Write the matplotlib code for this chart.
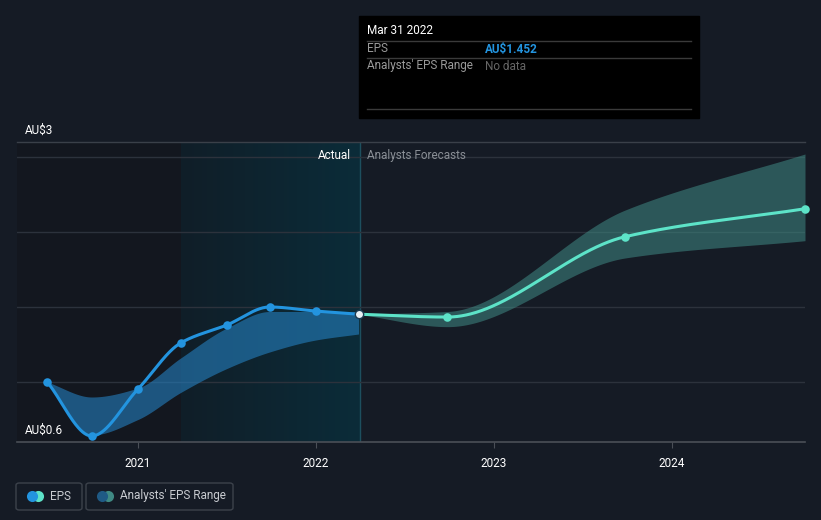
import numpy as np
import matplotlib.pyplot as plt
from matplotlib.patches import Rectangle, FancyBboxPatch
from matplotlib.colors import LinearSegmentedColormap

plt.rcParams['font.family'] = ['Roboto', 'DejaVu Sans']

# actual EPS (fractional year, AU$)
act_x = [2020.49, 2020.74, 2021.0, 2021.24, 2021.5, 2021.74, 2022.0, 2022.24]
act_y = [1.0, 0.64, 0.953, 1.26, 1.38, 1.50, 1.473, 1.452]
# past analysts' range
past_lo = [1.0, 0.647, 0.75, 0.93, 1.09, 1.20, 1.28, 1.32]
past_hi = [1.0, 0.90, 0.96, 1.16, 1.36, 1.47, 1.47, 1.467]
# forecast EPS
fc_x = [2022.24, 2022.74, 2023.74, 2024.75]
fc_y = [1.452, 1.433, 1.969, 2.155]
fc_lo = [1.452, 1.369, 1.827, 1.942]
fc_hi = [1.452, 1.47, 2.147, 2.52]

years = [2021, 2022, 2023, 2024]
now_x = 2022.25
shade_x = 2021.24

BG = '#151b25'
BLUE = '#2394df'
TEAL = '#5de3c8'


def smooth(x, y, n=200):
    # monotone cubic (Fritsch-Carlson), only for drawing the curve
    x = np.asarray(x, float)
    y = np.asarray(y, float)
    h = np.diff(x)
    d = np.diff(y) / h
    m = np.zeros_like(y)
    m[0], m[-1] = d[0], d[-1]
    for i in range(1, len(y) - 1):
        if d[i - 1] * d[i] <= 0:
            m[i] = 0
        else:
            w1 = 2 * h[i] + h[i - 1]
            w2 = h[i] + 2 * h[i - 1]
            m[i] = (w1 + w2) / (w1 / d[i - 1] + w2 / d[i])
    xs, ys = [], []
    for i in range(len(h)):
        t = np.linspace(0, 1, n)
        h00 = 2 * t**3 - 3 * t**2 + 1
        h10 = t**3 - 2 * t**2 + t
        h01 = -2 * t**3 + 3 * t**2
        h11 = t**3 - t**2
        xs.append(x[i] + t * h[i])
        ys.append(h00 * y[i] + h10 * h[i] * m[i] + h01 * y[i + 1] + h11 * h[i] * m[i + 1])
    return np.concatenate(xs), np.concatenate(ys)


fig = plt.figure(figsize=(8.21, 5.2), dpi=100, facecolor=BG)
ax = fig.add_axes([17 / 821, 78 / 520, 788 / 821, 300 / 520])
ax.set_facecolor(BG)
ax.set_xlim(2020.32, 2024.75)
ax.set_ylim(0.6, 2.6)

# background regions
ax.axvspan(2020.32, shade_x, color='#13171f', zorder=0, lw=0)
grad = np.linspace(0, 1, 256).reshape(1, -1)
cm = LinearSegmentedColormap.from_list('g', ['#101e28', '#0b2c39'])
ax.imshow(grad, cmap=cm, extent=[shade_x, now_x, 0.6, 2.6], aspect='auto', zorder=0)
ax.axvline(now_x, color='#1d4f5e', lw=1, zorder=1)

for g in [1.0, 1.5, 2.0, 2.5]:
    ax.axhline(g, color='#2c323c', lw=1, zorder=1)
ax.axhline(2.6, color='#3a4049', lw=1, zorder=1, clip_on=False)

# bands
bx, blo = smooth(act_x, past_lo)
_, bhi = smooth(act_x, past_hi)
ax.fill_between(bx, blo, bhi, color='#2580c0', alpha=0.6, lw=0, zorder=2)
fx, flo = smooth(fc_x, fc_lo)
_, fhi = smooth(fc_x, fc_hi)
ax.fill_between(fx, flo, fhi, color='#3f8a84', alpha=0.55, lw=0, zorder=2)

# lines
sx, sy = smooth(act_x, act_y)
ax.plot(sx, sy, color=BLUE, lw=2.2, zorder=3)
ax.scatter(act_x[:-1], act_y[:-1], s=38, color=BLUE, zorder=4, lw=0)
tx, ty = smooth(fc_x, fc_y)
ax.plot(tx, ty, color=TEAL, lw=2.2, zorder=3)
ax.scatter(fc_x[1:], fc_y[1:], s=38, color=TEAL, zorder=4, lw=0, clip_on=False)
ax.scatter([act_x[-1]], [act_y[-1]], s=36, color='#e8f0f5', edgecolor='#1a3a52', lw=1, zorder=5)

# axes styling
for s in ax.spines.values():
    s.set_visible(False)
ax.axhline(0.6, color='#4a4f57', lw=1.2, zorder=3, clip_on=False)
ax.set_yticks([])
ax.set_xticks(years)
ax.set_xticklabels([str(y) for y in years], color='white', fontsize=8.5)
ax.tick_params(axis='x', length=4, color='#4a4f57', pad=7)

ax.text(2022.2, 2.51, 'Actual', color='white', fontsize=8.5, ha='right', va='center', zorder=6)
ax.text(2022.29, 2.51, 'Analysts Forecasts', color='#8a8f96', fontsize=8.5, ha='left', va='center', zorder=6)

fig.text(25 / 821, 1 - 130 / 520, 'AU$3', color='white', fontsize=8.5, va='center')
fig.text(25 / 821, 1 - 430 / 520, 'AU$0.6', color='white', fontsize=8.5, va='center')

# tooltip
fig.patches.append(Rectangle((359 / 821, 1 - 118 / 520), 340 / 821, 102 / 520,
                             transform=fig.transFigure, color='black', zorder=10))
for yy in [41, 58, 109]:
    fig.add_artist(plt.Line2D([367 / 821, 691 / 821], [1 - yy / 520] * 2, color='#3a3a3a', lw=1, zorder=11))
fig.text(367 / 821, 1 - 31 / 520, 'Mar 31 2022', color='white', fontsize=8.5, va='center', zorder=12)
fig.text(367 / 821, 1 - 49 / 520, 'EPS', color='#9a9a9a', fontsize=8.5, va='center', zorder=12)
fig.text(485 / 821, 1 - 49 / 520, 'AU$1.452', color=BLUE, fontsize=8.5, va='center', zorder=12, fontweight='bold')
fig.text(367 / 821, 1 - 66 / 520, "Analysts' EPS Range", color='#9a9a9a', fontsize=8.5, va='center', zorder=12)
fig.text(485 / 821, 1 - 66 / 520, 'No data', color='#666666', fontsize=8.5, va='center', zorder=12)

# legend boxes
for x0, w in [(16, 66), (86, 147)]:
    fig.patches.append(FancyBboxPatch((x0 / 821, 1 - 510 / 520), w / 821, 27 / 520,
                                      boxstyle='round,pad=0,rounding_size=0.004', transform=fig.transFigure,
                                      facecolor='none', edgecolor='#3c424b', lw=1))
for cx, c1, c2, lab in [(32, BLUE, TEAL, 'EPS'), (102, '#1f5a85', '#3f8a84', "Analysts' EPS Range")]:
    yy = 1 - 496 / 520
    fig.add_artist(plt.Line2D([(cx + 6) / 821], [yy], marker='o', ms=8, mew=0, color=c2, zorder=5))
    fig.add_artist(plt.Line2D([cx / 821], [yy], marker='o', ms=8, mew=0, color=c1, zorder=6))
    fig.text((cx + 18) / 821, yy, lab, color='#c8cbd0', fontsize=8.5, va='center')

fig.savefig('out.png', dpi=100, facecolor=BG)
